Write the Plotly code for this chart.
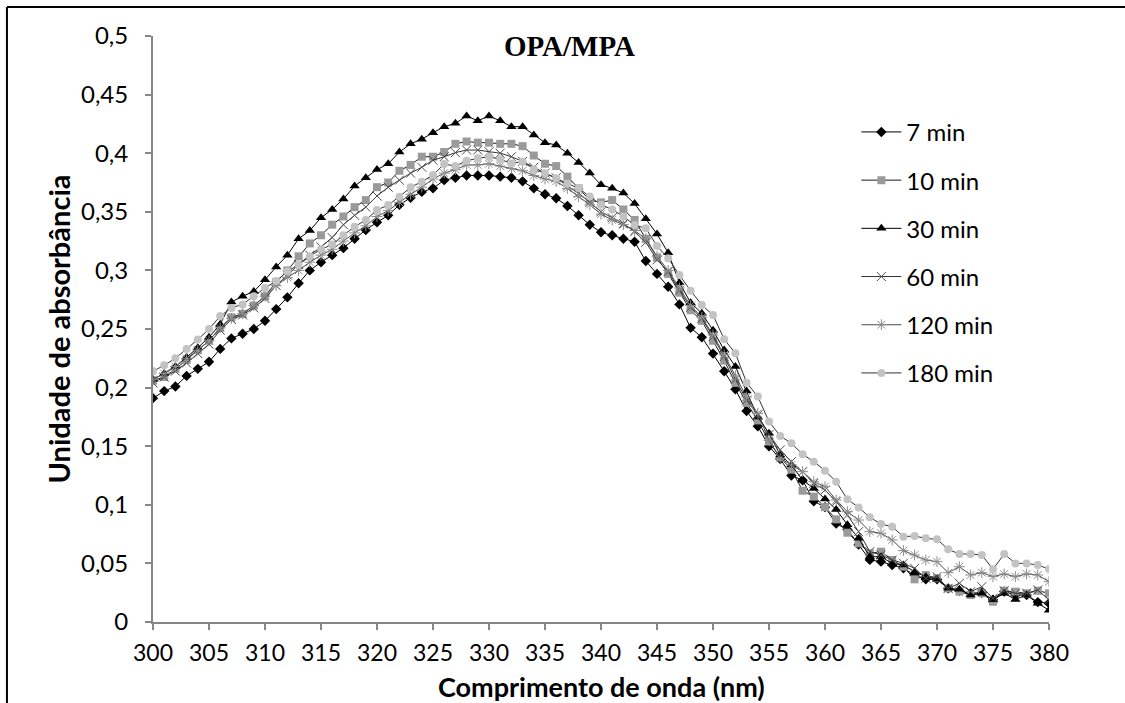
import plotly.graph_objects as go

wavelength = list(range(300, 381))

abs_7min = [0.191, 0.197, 0.201, 0.210, 0.216, 0.222, 0.233, 0.242, 0.246, 0.250,
            0.257, 0.267, 0.277, 0.289, 0.300, 0.307, 0.313, 0.319, 0.327, 0.3345,
            0.341, 0.347, 0.356, 0.362, 0.367, 0.370, 0.377, 0.379, 0.381, 0.381,
            0.381, 0.380, 0.379, 0.376, 0.370, 0.365, 0.3615, 0.355, 0.347, 0.339,
            0.3325, 0.330, 0.327, 0.3245, 0.308, 0.297, 0.286, 0.271, 0.251, 0.243,
            0.229, 0.214, 0.1985, 0.180, 0.167, 0.150, 0.139, 0.125, 0.121, 0.103,
            0.098, 0.084, 0.079, 0.066, 0.053, 0.0515, 0.0486, 0.0458, 0.040, 0.0364,
            0.0364, 0.0287, 0.0267, 0.0245, 0.025, 0.019, 0.026, 0.023, 0.023, 0.017,
            0.016]

abs_10min = [0.206, 0.209, 0.216, 0.2235, 0.232, 0.240, 0.251, 0.260, 0.263, 0.270,
             0.278, 0.290, 0.300, 0.312, 0.323, 0.330, 0.339, 0.346, 0.354, 0.360,
             0.371, 0.375, 0.385, 0.390, 0.397, 0.397, 0.401, 0.408, 0.410, 0.409,
             0.409, 0.408, 0.408, 0.406, 0.398, 0.391, 0.389, 0.380, 0.370, 0.360,
             0.358, 0.360, 0.352, 0.343, 0.327, 0.311, 0.297, 0.281, 0.266, 0.257,
             0.240, 0.223, 0.204, 0.187, 0.172, 0.154, 0.1405, 0.130, 0.112, 0.107,
             0.098, 0.0876, 0.0762, 0.0671, 0.0586, 0.060, 0.0529, 0.0472, 0.0364, 0.040,
             0.0373, 0.0287, 0.0259, 0.023, 0.0245, 0.0173, 0.0267, 0.0259, 0.0245, 0.0267,
             0.0245]

abs_30min = [0.207, 0.212, 0.218, 0.226, 0.234, 0.243, 0.254, 0.273, 0.278, 0.282,
             0.292, 0.303, 0.313, 0.327, 0.334, 0.345, 0.352, 0.361, 0.372, 0.379,
             0.386, 0.391, 0.401, 0.408, 0.412, 0.4175, 0.4226, 0.4255, 0.4317, 0.4277,
             0.4317, 0.4277, 0.4226, 0.4226, 0.4155, 0.409, 0.407, 0.400, 0.392, 0.383,
             0.373, 0.370, 0.366, 0.357, 0.344, 0.331, 0.315, 0.2895, 0.2725, 0.2634,
             0.249, 0.232, 0.218, 0.197, 0.175, 0.161, 0.1425, 0.134, 0.121, 0.114,
             0.105, 0.096, 0.083, 0.0714, 0.0557, 0.0557, 0.050, 0.0486, 0.0429, 0.0387,
             0.0364, 0.0287, 0.0279, 0.023, 0.0245, 0.019, 0.0245, 0.0193, 0.023, 0.016,
             0.010]

abs_60min = [0.204, 0.209, 0.214, 0.221, 0.229, 0.237, 0.249, 0.258, 0.262, 0.268,
             0.276, 0.287, 0.296, 0.305, 0.313, 0.320, 0.328, 0.339, 0.347, 0.354,
             0.3635, 0.371, 0.377, 0.383, 0.388, 0.394, 0.397, 0.4005, 0.4027, 0.4027,
             0.4013, 0.400, 0.397, 0.393, 0.388, 0.383, 0.379, 0.372, 0.366, 0.358,
             0.350, 0.345, 0.340, 0.333, 0.324, 0.309, 0.299, 0.283, 0.2685, 0.259,
             0.2434, 0.2264, 0.2071, 0.1894, 0.1766, 0.160, 0.1468, 0.1368, 0.1283, 0.1183,
             0.1126, 0.1027, 0.0913, 0.0771, 0.060, 0.0572, 0.0529, 0.0501, 0.0458, 0.0373,
             0.0387, 0.0287, 0.033, 0.0259, 0.0301, 0.0202, 0.0267, 0.0245, 0.0245, 0.0273,
             0.0188]

abs_120min = [0.207, 0.212, 0.218, 0.225, 0.232, 0.240, 0.251, 0.259, 0.263, 0.270,
              0.278, 0.287, 0.294, 0.300, 0.307, 0.313, 0.318, 0.325, 0.332, 0.338,
              0.346, 0.351, 0.358, 0.365, 0.371, 0.378, 0.383, 0.386, 0.390, 0.390,
              0.391, 0.389, 0.387, 0.385, 0.381, 0.378, 0.376, 0.370, 0.363, 0.356,
              0.348, 0.343, 0.339, 0.334, 0.327, 0.312, 0.300, 0.285, 0.270, 0.260,
              0.245, 0.228, 0.210, 0.192, 0.178, 0.155, 0.1396, 0.134, 0.1283, 0.1197,
              0.1155, 0.1041, 0.0941, 0.087, 0.0771, 0.0757, 0.070, 0.0609, 0.0572, 0.0529,
              0.0515, 0.0421, 0.0472, 0.0401, 0.0421, 0.0387, 0.041, 0.0387, 0.041, 0.0401,
              0.0344]

abs_180min = [0.214, 0.219, 0.225, 0.233, 0.241, 0.250, 0.261, 0.268, 0.271, 0.278,
              0.285, 0.291, 0.299, 0.305, 0.312, 0.318, 0.322, 0.330, 0.3373, 0.343,
              0.3515, 0.3558, 0.3629, 0.3709, 0.3757, 0.3814, 0.3908, 0.389, 0.3936, 0.3956,
              0.397, 0.3948, 0.3913, 0.3928, 0.3863, 0.3828, 0.3786, 0.374, 0.370, 0.363,
              0.356, 0.352, 0.346, 0.3387, 0.3359, 0.3208, 0.3103, 0.2961, 0.2827, 0.2705,
              0.2619, 0.2412, 0.2293, 0.2042, 0.1923, 0.171, 0.1587, 0.1525, 0.1431, 0.1368,
              0.1291, 0.1197, 0.1047, 0.0978, 0.0893, 0.0836, 0.0813, 0.0728, 0.0734, 0.0714,
              0.0705, 0.062, 0.058, 0.058, 0.0572, 0.045, 0.058, 0.050, 0.050, 0.0486,
              0.0452]

series_names = ["7 min", "10 min", "30 min", "60 min", "120 min", "180 min"]
series_values = [abs_7min, abs_10min, abs_30min, abs_60min, abs_120min, abs_180min]

styles = [
    dict(line=dict(color="#000000", width=1),
         marker=dict(symbol="diamond", size=8, color="#000000")),
    dict(line=dict(color="#1a1a1a", width=1),
         marker=dict(symbol="square", size=8, color="#9a9a9a")),
    dict(line=dict(color="#000000", width=1),
         marker=dict(symbol="triangle-up", size=9, color="#000000")),
    dict(line=dict(color="#333333", width=1),
         marker=dict(symbol="x-thin-open", size=9, color="#4d4d4d",
                     line=dict(width=1, color="#4d4d4d"))),
    dict(line=dict(color="#4d4d4d", width=1),
         marker=dict(symbol="asterisk-open", size=9, color="#8c8c8c",
                     line=dict(width=1, color="#8c8c8c"))),
    dict(line=dict(color="#333333", width=1),
         marker=dict(symbol="circle", size=8, color="#c3c3c3")),
]

FONT = "Lato, Noto Sans, sans-serif"

fig = go.Figure()
for name, vals, st in zip(series_names, series_values, styles):
    fig.add_trace(go.Scatter(x=wavelength, y=vals, name=name, mode="lines+markers",
                             legendgroup=name, **st))

axis_gray = "#868686"
fig.update_layout(
    width=1125, height=703,
    margin=dict(l=153, r=76, t=36, b=81, autoexpand=False),
    paper_bgcolor="white", plot_bgcolor="white",
    separators=", ",
    font=dict(family=FONT, size=24, color="#000000"),
    showlegend=True,
    legend=dict(x=0.785, y=0.874, xanchor="left", yanchor="top",
                bgcolor="rgba(0,0,0,0)", tracegroupgap=14, itemwidth=40,
                font=dict(family=FONT, size=24, color="#000000")),
    xaxis=dict(range=[300, 380], tick0=300, dtick=5, showgrid=False, zeroline=False,
               automargin=False,
               showline=True, linecolor=axis_gray, linewidth=2,
               ticks="outside", ticklen=6, tickwidth=1.5, tickcolor=axis_gray,
               ticklabelstandoff=3,
               tickfont=dict(family=FONT, size=23)),
    yaxis=dict(range=[0, 0.5], tick0=0, dtick=0.05, showgrid=False, zeroline=False,
               automargin=False,
               showline=True, linecolor=axis_gray, linewidth=2,
               ticks="outside", ticklen=6, tickwidth=1.5, tickcolor=axis_gray,
               ticklabelstandoff=12,
               tickfont=dict(family=FONT, size=24),
               title=dict(text="<b>Unidade de absorbância</b>", standoff=2,
                          font=dict(family=FONT, size=29))),
)

# x-axis title (placed as annotation so it can sit at the very bottom edge)
fig.add_annotation(text="<b>Comprimento de onda (nm)</b>", xref="paper", yref="paper",
                   x=0.5, y=-0.1095, xanchor="center", yanchor="middle",
                   showarrow=False, font=dict(family=FONT, size=27, color="#000000"))

fig.add_annotation(text="<b>OPA/MPA</b>", xref="paper", yref="paper",
                   x=0.465, y=0.983, xanchor="center", yanchor="middle",
                   showarrow=False,
                   font=dict(family="Liberation Serif, Times New Roman, serif",
                             size=29, color="#000000"))

# outer frame (left and top edges visible)
fig.add_shape(type="line", xref="paper", yref="paper", x0=-0.163, x1=1.09,
              y0=1.0495, y1=1.0495, line=dict(color="#000000", width=2))
fig.add_shape(type="line", xref="paper", yref="paper", x0=-0.163, x1=-0.163,
              y0=1.0495, y1=-0.15, line=dict(color="#000000", width=2))

fig.write_html("out.html")
